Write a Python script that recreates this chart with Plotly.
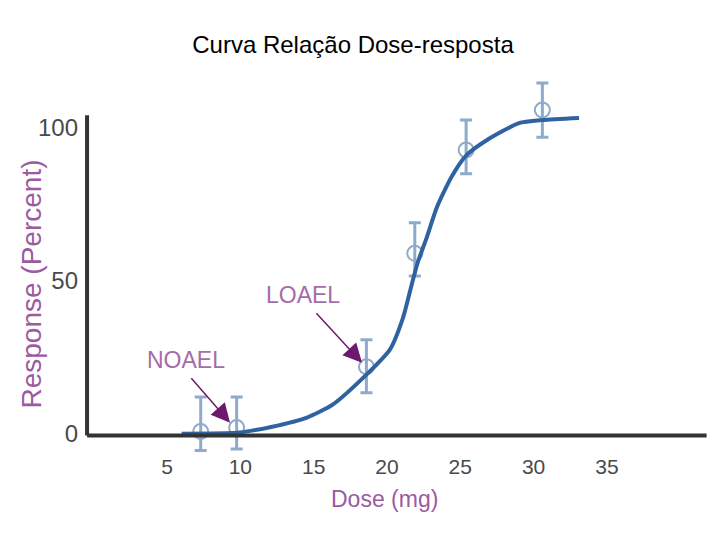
import plotly.graph_objects as go

# curve (dose mg, response %)
curva_dose = [6.0, 9.75, 10.8, 12.1, 14.5, 16.3, 18.6, 20.2, 21.1, 21.7, 22.1,
              22.7, 23.4, 24.4, 25.4, 26.8, 29.0, 30.6, 33.1]
curva_resp = [0, 0.3, 1.0, 2.2, 5.2, 9.5, 19.3, 27.5, 38, 49, 56,
              64, 74, 84, 91, 96, 101.6, 102.6, 103.3]

# observed points with error bars
pontos_dose = [7.3, 9.75, 18.6, 21.9, 25.4, 30.6]
pontos_resp = [0.7, 2, 21.9, 59, 92.8, 105.9]
erro_mais = [11.3, 10, 8.8, 10, 9.8, 8.8]
erro_menos = [6.2, 7, 8.5, 7.4, 7.8, 8.9]

x_ticks = [5, 10, 15, 20, 25, 30, 35]
y_ticks = [0, 50, 100]

tick_font = dict(family="Liberation Sans Narrow, Liberation Sans, Arial", color="#4a4a4a")
roxo = "#9c5aa0"

fig = go.Figure()

fig.add_trace(go.Scatter(
    x=pontos_dose, y=pontos_resp,
    mode="markers",
    marker=dict(symbol="circle-open", size=15, color="#8eabcb", line=dict(width=2)),
    error_y=dict(type="data", symmetric=False, array=erro_mais, arrayminus=erro_menos,
                 color="#8eabcb", thickness=3, width=6),
    showlegend=False))

fig.add_trace(go.Scatter(
    x=curva_dose, y=curva_resp,
    mode="lines",
    line=dict(color="#2f62a0", width=4, shape="spline", smoothing=0.6),
    showlegend=False))

# axis lines drawn as shapes so the error bars below zero are not clipped
fig.add_shape(type="line", x0=-0.45, x1=-0.45, y0=-0.6, y1=104.2,
              line=dict(color="#333333", width=4))
fig.add_shape(type="line", x0=-0.45, x1=41.8, y0=-0.6, y1=-0.6,
              line=dict(color="#333333", width=4))

# NOAEL / LOAEL
fig.add_annotation(x=6.27, y=24.2, text="NOAEL", showarrow=False,
                   font=dict(size=23, color="#a46ca8", family="Liberation Sans"))
fig.add_annotation(x=14.25, y=45.4, text="LOAEL", showarrow=False,
                   font=dict(size=23, color="#a46ca8", family="Liberation Sans"))
fig.add_annotation(x=9.3, y=3.6, ax=-40, ay=-46, text="", showarrow=True,
                   arrowhead=2, arrowsize=2.5, arrowwidth=1.5, arrowcolor="#6d1a6e", standoff=0)
fig.add_annotation(x=18.3, y=23.2, ax=-47, ay=-51, text="", showarrow=True,
                   arrowhead=2, arrowsize=2.5, arrowwidth=1.5, arrowcolor="#6d1a6e", standoff=0)

# axis titles
fig.add_annotation(x=19.8, y=-0.124, xref="x", yref="paper", text="Dose (mg)", showarrow=False,
                   yanchor="middle", font=dict(size=23, color=roxo, family="Liberation Sans"))
fig.add_annotation(x=-0.075, y=49, xref="paper", yref="y", text="Response (Percent)",
                   textangle=-90, showarrow=False, xanchor="center",
                   font=dict(size=28, color=roxo, family="Liberation Sans"))

fig.update_layout(
    width=720, height=540,
    margin=dict(l=71, r=17, t=65, b=96, autoexpand=False),
    paper_bgcolor="white", plot_bgcolor="white",
    title=dict(text="Curva Relação Dose-resposta", x=345 / 720, xref="container",
               xanchor="center", y=1 - 37 / 540, yanchor="middle",
               font=dict(family="Liberation Sans, Arial", size=24, color="black")),
    xaxis=dict(range=[-1, 42.1], tickvals=x_ticks, showgrid=False, zeroline=False,
               showline=False, ticks="", automargin=False,
               tickfont=dict(size=21, **tick_font)),
    yaxis=dict(range=[-6, 118], tickvals=y_ticks, showgrid=False, zeroline=False,
               showline=False, ticks="", automargin=False,
               tickfont=dict(size=24, **tick_font)),
)

fig.write_html("out.html")
